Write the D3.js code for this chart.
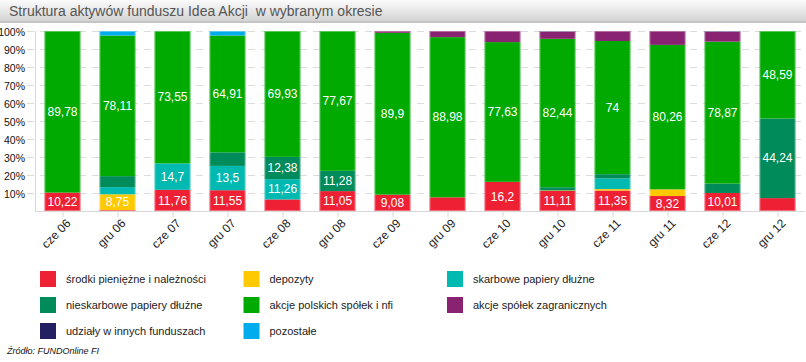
<!DOCTYPE html>
<html>
<head>
<meta charset="utf-8">
<script src="https://cdn.jsdelivr.net/npm/d3@7"></script>
<style>
  body { margin: 0; background: #fff; }
  svg { display: block; font-family: "Liberation Sans", Arial, sans-serif; }
</style>
</head>
<body>
<svg id="chart" width="806" height="362"></svg>
<script>
// periods on the x axis
const periods = ['cze 06', 'gru 06', 'cze 07', 'gru 07', 'cze 08', 'gru 08', 'cze 09',
  'gru 09', 'cze 10', 'gru 10', 'cze 11', 'gru 11', 'cze 12', 'gru 12'];

// asset classes (stack order, bottom to top)
const seriesNames = ['środki pieniężne i należności', 'depozyty', 'skarbowe papiery dłużne',
  'nieskarbowe papiery dłużne', 'akcje polskich spółek i nfi', 'akcje spółek zagranicznych',
  'udziały w innych funduszach', 'pozostałe'];
const seriesColors = ['#ee2034', '#ffc900', '#00b9b0', '#008b5b', '#00aa00', '#8a2272', '#242163', '#00acec'];

// values in % per period
const srodki      = [10.22, 0.53, 11.76, 11.55, 6.43, 11.05, 9.08, 7.6, 16.2, 11.11, 11.35, 8.32, 10.01, 7.17];
const depozyty    = [0, 8.75, 0, 0, 0, 0, 0, 0, 0, 0.3, 0.8, 3.7, 0, 0];
const skarbowe    = [0, 4.0, 14.7, 13.5, 11.26, 0, 0, 0, 0, 0, 6.0, 0, 0, 0];
const nieskarbowe = [0, 6.1, 0, 7.55, 12.38, 11.28, 0, 0, 0, 1.8, 2.3, 0, 5.2, 44.24];
const akcjePl     = [89.78, 78.11, 73.55, 64.91, 69.93, 77.67, 89.9, 88.98, 77.63, 82.44, 74, 80.26, 78.87, 48.59];
const akcjeZagr   = [0, 0, 0, 0, 0, 0, 1.02, 3.42, 6.17, 4.1, 5.55, 7.72, 5.6, 0];
const udzialy     = [0, 0, 0, 0, 0, 0, 0, 0, 0, 0.25, 0, 0, 0.32, 0];
const pozostale   = [0, 2.51, 0, 2.49, 0, 0, 0, 0, 0, 0, 0, 0, 0, 0];

const yTicks = [10, 20, 30, 40, 50, 60, 70, 80, 90, 100];
const labelMin = 8;

const seriesValues = [srodki, depozyty, skarbowe, nieskarbowe, akcjePl, akcjeZagr, udzialy, pozostale];
const rows = periods.map((p, i) => {
  const r = { period: p };
  seriesNames.forEach((s, j) => { r[s] = seriesValues[j][i]; });
  return r;
});

const svg = d3.select('#chart');

// title bar
const defs = svg.append('defs');
const grad = defs.append('linearGradient').attr('id', 'tg').attr('x1', 0).attr('y1', 0).attr('x2', 0).attr('y2', 1);
grad.append('stop').attr('offset', '0%').attr('stop-color', '#fbfbfb');
grad.append('stop').attr('offset', '100%').attr('stop-color', '#d4d4d4');
svg.append('rect').attr('x', 0).attr('y', 0).attr('width', 806).attr('height', 21).attr('fill', 'url(#tg)');
svg.append('rect').attr('x', 0).attr('y', 21).attr('width', 806).attr('height', 2).attr('fill', '#c4c4c4');
svg.append('text').attr('x', 9).attr('y', 16)
  .attr('font-size', 14).attr('fill', '#555')
  .text('Struktura aktywów funduszu Idea Akcji  w wybranym okresie')
  .style('white-space', 'pre');

const x = d3.scaleBand().domain(periods).range([35, 805]).paddingInner(0.345).paddingOuter(0.1725);
const y = d3.scaleLinear().domain([0, 100]).range([211, 31]);

// grid
svg.append('g').selectAll('line').data(yTicks).join('line')
  .attr('x1', 27).attr('x2', 805)
  .attr('y1', d => y(d) + 0.5).attr('y2', d => y(d) + 0.5)
  .attr('stroke', '#dcdcdc').attr('stroke-dasharray', '7,6');

// y labels
svg.append('g').selectAll('text').data(yTicks).join('text')
  .attr('x', 25).attr('y', d => y(d) + 1).attr('dy', '0.35em')
  .attr('text-anchor', 'end').attr('font-size', 10.5).attr('fill', '#111')
  .text(d => d + '%');

// axes lines
svg.append('line').attr('x1', 35.5).attr('x2', 35.5).attr('y1', 31).attr('y2', 211).attr('stroke', '#d8d8d8');
svg.append('line').attr('x1', 35).attr('x2', 805).attr('y1', 211.5).attr('y2', 211.5).attr('stroke', '#d8d8d8');

// bars
const stack = d3.stack().keys(seriesNames)(rows);
const layers = svg.append('g').selectAll('g').data(stack).join('g')
  .attr('fill', (d, i) => seriesColors[i]);
layers.selectAll('rect').data(d => d.filter(s => s[1] - s[0] > 0)).join('rect')
  .attr('x', d => x(d.data.period))
  .attr('width', x.bandwidth())
  .attr('y', d => y(d[1]))
  .attr('height', d => y(d[0]) - y(d[1]));

// bar edges
svg.append('g').selectAll('rect').data(periods).join('rect')
  .attr('x', d => x(d) + 0.5).attr('y', y(100) + 0.5)
  .attr('width', x.bandwidth() - 1).attr('height', y(0) - y(100) - 1)
  .attr('fill', 'none').attr('stroke', '#fff').attr('stroke-opacity', 0.35);

// value labels
stack.forEach(layer => {
  svg.append('g').selectAll('text').data(layer.filter(s => s[1] - s[0] >= labelMin)).join('text')
    .attr('x', d => x(d.data.period) + x.bandwidth() / 2)
    .attr('y', d => y((d[0] + d[1]) / 2))
    .attr('dy', '0.35em').attr('text-anchor', 'middle')
    .attr('font-size', 12).attr('fill', '#fff')
    .text(d => String(+(d[1] - d[0]).toFixed(2)).replace('.', ','));
});

// x ticks and labels
const xg = svg.append('g');
xg.selectAll('line').data(periods).join('line')
  .attr('x1', d => x(d) + x.bandwidth() / 2 + 0.5).attr('x2', d => x(d) + x.bandwidth() / 2 + 0.5)
  .attr('y1', 212).attr('y2', 217).attr('stroke', '#d8d8d8');
xg.selectAll('text').data(periods).join('text')
  .attr('transform', d => `translate(${x(d) + x.bandwidth() / 2 + 6},${221}) rotate(-45)`)
  .attr('text-anchor', 'end').attr('dy', '0.35em')
  .attr('font-size', 12).attr('fill', '#222')
  .text(d => d);

// legend
const legend = svg.append('g').selectAll('g').data(seriesNames).join('g')
  .attr('transform', (d, i) => `translate(${40 + (i % 3) * 203.5},${271 + Math.floor(i / 3) * 26})`);
legend.append('rect').attr('width', 16).attr('height', 16).attr('fill', (d, i) => seriesColors[i]);
legend.append('text').attr('x', 26).attr('y', 8).attr('dy', '0.35em')
  .attr('font-size', 11).attr('fill', '#222').text(d => d);

// source
svg.append('text').attr('x', 7).attr('y', 354)
  .attr('font-size', 9).attr('font-style', 'italic').attr('fill', '#111')
  .text('Źródło: FUNDOnline FI');
</script>
</body>
</html>
